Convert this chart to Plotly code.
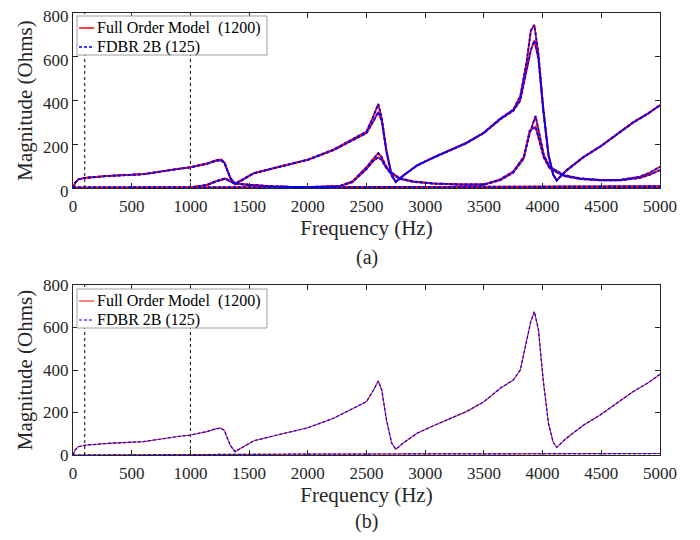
import plotly.graph_objects as go

# ---------------- data ----------------
# main impedance curve (lower variant, also shown in (b))
freq_A = [0, 20, 45, 100, 300, 600, 880, 1000, 1140, 1220, 1260, 1290, 1310, 1340, 1380,
          1450, 1540, 1740, 2000, 2220, 2360, 2500, 2560, 2600, 2630, 2670, 2715, 2750,
          2810, 2930, 3070, 3350, 3500, 3640, 3750, 3810, 3865, 3900, 3930, 3965, 4005,
          4050, 4090, 4120, 4200, 4350, 4490, 4630, 4770, 4900, 5000]
mag_A2 = [0, 25, 39, 46, 55, 63, 86, 94, 110, 124, 126, 115, 86, 45, 16,
          39, 67, 94, 128, 173, 212, 251, 306, 348, 306, 165, 55, 27,
          55, 102, 138, 204, 251, 314, 353, 400, 541, 630, 674, 588, 353,
          149, 60, 36, 78, 141, 188, 243, 298, 340, 380]
# main curve, higher variant (top panel only)
mag_A1 = [0, 25, 39, 46, 55, 63, 86, 95, 112, 127, 130, 117, 88, 47, 20,
          40, 68, 95, 130, 176, 216, 258, 330, 384, 320, 170, 58, 29,
          56, 104, 140, 207, 254, 318, 358, 420, 580, 720, 745, 610, 370,
          155, 62, 33, 80, 143, 190, 246, 300, 342, 378]

# secondary curves (top panel)
freq_B = [0, 500, 1000, 1140, 1220, 1295, 1365, 1450, 1510, 1700, 1930, 2100, 2270,
          2380, 2445, 2500, 2560, 2600, 2630, 2660, 2700, 2785, 2900, 3070, 3300,
          3500, 3640, 3750, 3840, 3890, 3940, 3980, 4010, 4060, 4180, 4320, 4490,
          4660, 4830, 4920, 5000]
mag_B1 = [2, 2, 3, 14, 32, 44, 24, 17, 14, 8, 4, 5, 9,
          30, 67, 95, 135, 159, 140, 105, 75, 44, 30, 21, 16,
          16, 40, 75, 143, 250, 329, 225, 151, 97, 59, 44, 37,
          37, 52, 72, 97]
mag_B2 = [2, 2, 3, 13, 30, 42, 23, 16, 13, 7, 4, 5, 8,
          27, 60, 86, 125, 140, 128, 98, 70, 42, 28, 20, 15,
          15, 36, 70, 135, 262, 280, 205, 140, 90, 55, 41, 35,
          35, 46, 62, 82]

# near-zero curves
freq_C = [0, 1000, 2000, 3000, 4000, 5000]
mag_C1 = [0, 1, 1, 2, 2, 3]
mag_C2 = [1, 2, 3, 4, 5, 6]
mag_C3 = [0, 3, 4, 5, 7, 8]

freq_D = [0, 1000, 2000, 3000, 4000, 5000]
mag_D = [0, 3, 4, 5, 6, 7]

vline_freqs = [100, 1000]
x_ticks = [0, 500, 1000, 1500, 2000, 2500, 3000, 3500, 4000, 4500, 5000]
y_ticks = [0, 200, 400, 600, 800]

label_full = "Full Order Model  (1200)"
label_fdbr = "FDBR 2B (125)"

# ---------------- figure ----------------
FONT = "Liberation Serif"
RED = "#ff0000"
RED_B = "#f03030"
BLUE = "#0000ff"
INK = "#262626"
fig = go.Figure()

top_sets = [(freq_A, mag_A1), (freq_A, mag_A2), (freq_B, mag_B1), (freq_B, mag_B2),
            (freq_C, mag_C1), (freq_C, mag_C2), (freq_C, mag_C3)]

for fx, fy in top_sets:
    fig.add_trace(go.Scatter(x=fx, y=fy, mode="lines", line=dict(color=RED, width=1.8),
                             name=label_full, showlegend=False, xaxis="x", yaxis="y"))
for fx, fy in top_sets:
    fig.add_trace(go.Scatter(x=fx, y=fy, mode="lines", line=dict(color=BLUE, width=1.8, dash="3px,2px"),
                             name=label_fdbr, showlegend=False, xaxis="x", yaxis="y"))

bot_sets = [(freq_A, mag_A2), (freq_D, mag_D)]
for fx, fy in bot_sets:
    fig.add_trace(go.Scatter(x=fx, y=fy, mode="lines", line=dict(color=RED_B, width=1.2),
                             name=label_full, showlegend=False, xaxis="x2", yaxis="y2"))
for fx, fy in bot_sets:
    fig.add_trace(go.Scatter(x=fx, y=fy, mode="lines", line=dict(color=BLUE, width=1.2, dash="3px,2px"),
                             name=label_fdbr, showlegend=False, xaxis="x2", yaxis="y2"))

# vertical dotted markers
for ax in ["", "2"]:
    for f in vline_freqs:
        fig.add_shape(type="line", x0=f, x1=f, y0=0, y1=800, xref="x" + ax, yref="y" + ax,
                      line=dict(color="black", width=1, dash="dot"), layer="below")

axis_common = dict(showline=True, linecolor=INK, linewidth=1, mirror="allticks",
                   ticks="inside", ticklen=5, tickcolor=INK, showgrid=False,
                   zeroline=False, automargin=False, ticklabeloverflow="allow",
                   tickfont=dict(family=FONT, size=17, color=INK))
title_font = dict(family=FONT, size=21, color=INK)

# page body adds an 8 px offset, so the figure is sized to fit the 700x540 window
W, H = 692, 532
ML, MR, MT, MB = 65, 40, 5, 85
fig.update_layout(
    width=W, height=H,
    margin=dict(l=ML, r=MR, t=MT, b=MB),
    paper_bgcolor="white", plot_bgcolor="white",
    font=dict(family=FONT, color=INK),
    xaxis=dict(domain=[0, 1], range=[0, 5000], tickvals=x_ticks, anchor="y",
               ticklabelstandoff=3,
               title=dict(text="Frequency (Hz)", font=title_font, standoff=4),
               **axis_common),
    yaxis=dict(domain=[0.6041, 1], range=[0, 800], tickvals=y_ticks, anchor="x",
               ticklabelshift=3,
               title=dict(text="Magnitude (Ohms)", font=title_font, standoff=4),
               **axis_common),
    xaxis2=dict(domain=[0, 1], range=[0, 5000], tickvals=x_ticks, anchor="y2",
                ticklabelstandoff=3,
                title=dict(text="Frequency (Hz)", font=title_font, standoff=4),
                **axis_common),
    yaxis2=dict(domain=[0, 0.3846], range=[0, 800], tickvals=y_ticks, anchor="x2",
                title=dict(text="Magnitude (Ohms)", font=title_font, standoff=4),
                **axis_common),
)

plot_w = W - ML - MR
plot_h = H - MT - MB
def px(pix):  # page pixel -> paper x
    return (pix - 8 - ML) / plot_w
def py(pix):  # page pixel -> paper y
    return 1 - (pix - 8 - MT) / plot_h

annotations = [
    dict(text="(a)", x=0.5, y=py(257), xref="paper", yref="paper", showarrow=False,
         yanchor="middle", font=dict(family=FONT, size=20, color=INK)),
    dict(text="(b)", x=0.5, y=py(521), xref="paper", yref="paper", showarrow=False,
         yanchor="middle", font=dict(family=FONT, size=20, color=INK)),
]

# MATLAB-style legend boxes (one per panel)
for top, red_col, lw in [(16, RED, 1.5), (289, RED_B, 1.2)]:
    fig.add_shape(type="rect", xref="paper", yref="paper",
                  x0=px(77), x1=px(267), y0=py(top), y1=py(top + 39),
                  fillcolor="white", line=dict(color="#a0a0a0", width=1), layer="above")
    fig.add_shape(type="line", xref="paper", yref="paper",
                  x0=px(79), x1=px(94), y0=py(top + 12), y1=py(top + 12),
                  line=dict(color=red_col, width=lw), layer="above")
    fig.add_shape(type="line", xref="paper", yref="paper",
                  x0=px(79), x1=px(94), y0=py(top + 31), y1=py(top + 31),
                  line=dict(color=BLUE, width=lw, dash="3px,2px"), layer="above")
    annotations.append(dict(text=label_full, x=px(95), y=py(top + 12), xref="paper", yref="paper",
                            xanchor="left", yanchor="middle", showarrow=False,
                            font=dict(family=FONT, size=16, color="black")))
    annotations.append(dict(text=label_fdbr, x=px(95), y=py(top + 31), xref="paper", yref="paper",
                            xanchor="left", yanchor="middle", showarrow=False,
                            font=dict(family=FONT, size=16, color="black")))

fig.layout.annotations = annotations

fig.write_html("out.html")
